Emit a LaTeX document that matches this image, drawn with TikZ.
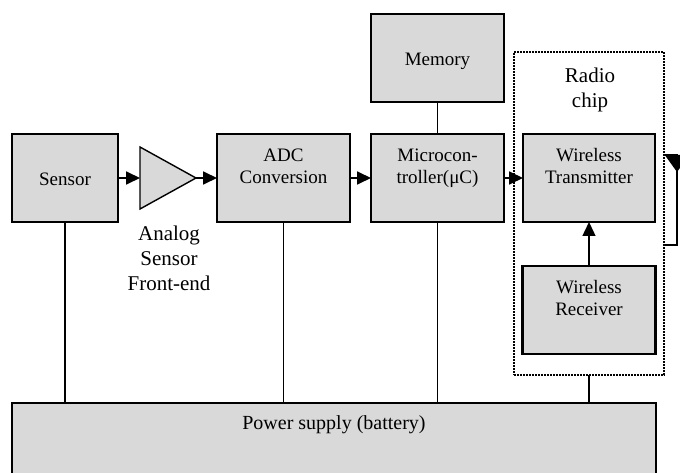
\documentclass[tikz,border=0pt]{standalone}
\usepackage{fontspec}
\setmainfont{Liberation Serif}
\usepackage{xcolor}
\usepackage{tikz}
\usetikzlibrary{arrows.meta}
\usetikzlibrary{positioning}
\usetikzlibrary{fit}
\definecolor{boxgray}{RGB}{217,217,217}

\begin{document}
\begin{tikzpicture}[
  x=1pt, y=1pt,
  every node/.style={font=\fontsize{19}{22.5}\selectfont},
  block/.style={draw, line width=2.6pt, fill=boxgray, align=center, inner sep=0pt, outer sep=0pt,
    minimum width=133pt, minimum height=88pt},
  twoline/.style={text depth=24pt},
  lbl/.style={font=\fontsize{21}{25}\selectfont, align=center},
  wire/.style={line width=1.8pt},
  link/.style={wire, -{Triangle[length=14pt,width=13pt]}},
  chipbox/.style={draw, line width=2pt, densely dotted, inner sep=0pt, outer sep=0pt}
]
\useasboundingbox (0,0) rectangle (680,-473);
\node[block, minimum width=106pt, text height=16pt] (sensor) at (65,-178) {Sensor};
\coordinate[right=22pt of sensor] (ampin);
\coordinate[right=56pt of ampin] (ampout);
\draw[line width=1.4pt, fill=boxgray] ([yshift=31pt]ampin) -- (ampout) -- ([yshift=-31pt]ampin) -- cycle;
\node[lbl] (amplbl) at (169,-258) {Analog\\Sensor\\Front-end};
\node[block, twoline, right=21pt of ampout] (adc) {ADC\\Conversion};
\node[block, twoline, right=21pt of adc] (mcu) {Microcon-\\troller(μC)};
\node[block, above=32pt of mcu, text height=20pt] (memory) {Memory};
\node[block, twoline, right=19pt of mcu, minimum width=132pt] (tx) {Wireless\\Transmitter};
\node[block, twoline, below=44pt of tx] (rx) {Wireless\\Receiver};
\node[lbl] (radiolbl) at (590,-90) {Radio\\chip};
\coordinate (chipnw) at (514,-52);
\coordinate (chipse) at (664,-375);
\node[chipbox, fit=(chipnw)(chipse)] (chip) {};
\node[block, minimum width=644pt, minimum height=90pt, text depth=51pt, font=\fontsize{20}{24}\selectfont,
  anchor=north] (power) at (334,-403) {Power supply (battery)};

\draw[link] (sensor) -- (ampin);
\draw[link] (ampout) -- (adc);
\draw[link] (adc) -- (mcu);
\draw[link] (mcu) -- (tx);
\draw[wire] (memory) -- (mcu);
\draw[link, line width=1.4pt] (rx) -- (tx);
\draw[wire] (sensor) -- (sensor |- power.north);
\draw[wire] (adc) -- (adc |- power.north);
\draw[wire] (mcu) -- (mcu |- power.north);
\draw[wire] (chip) -- (chip |- power.north);
\coordinate (anttop) at (677,-155);
\coordinate (antbot) at (677,-245);
\draw[wire] (anttop -| chip.east) -- (anttop) -- (antbot) -- (antbot -| chip.east);
\draw[wire, -{Triangle[length=17pt,width=24pt]}] (anttop) -- ++(0,-17);
\end{tikzpicture}
\end{document}
